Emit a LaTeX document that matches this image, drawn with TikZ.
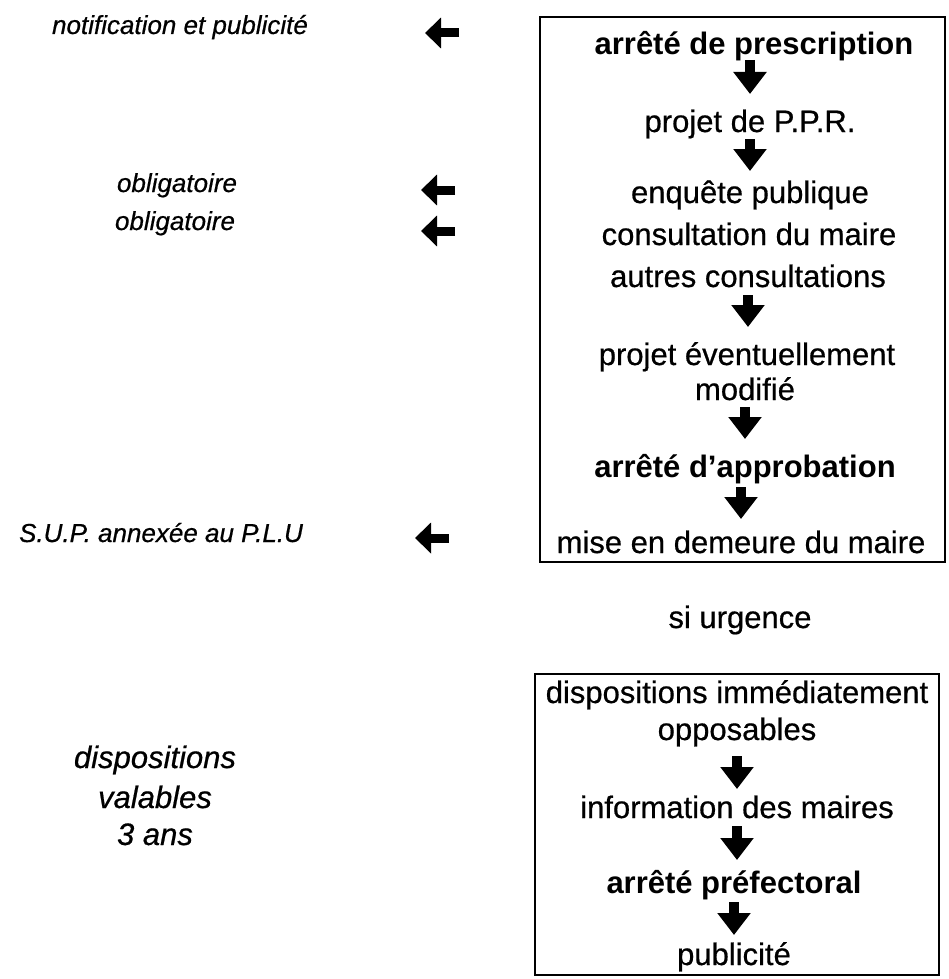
\documentclass[tikz,border=0pt]{standalone}
\usepackage{fontspec}
\setmainfont{Liberation Sans}[UprightFeatures={FakeBold=0.6},ItalicFeatures={FakeBold=0.6}]
\usetikzlibrary{arrows.meta}
\begin{document}
\begin{tikzpicture}[x=1pt,y=-1pt,
  boxtxt/.style={anchor=base, inner sep=0pt, font=\fontsize{31}{37}\selectfont},
  boldtxt/.style={anchor=base, inner sep=0pt, font=\fontsize{31}{37}\selectfont\bfseries},
  sidetxt/.style={anchor=base, inner sep=0pt, font=\fontsize{26}{30}\selectfont\itshape},
  bigside/.style={anchor=base, inner sep=0pt, font=\fontsize{31}{37}\selectfont\itshape},
  downarr/.style={line width=10pt, -{Triangle[length=22pt,width=32pt]}},
  leftarr/.style={line width=9pt, -{Triangle[length=16pt,width=30pt]}},
  frame/.style={draw, line width=2pt}]
\useasboundingbox (0,0) rectangle (949,979);

% frames
\draw[frame] (540,17) rectangle (945,562);
\draw[frame] (535,674) rectangle (939,975);

% upper procedure
\node[boldtxt] (t1) at (754,55) {arrêté de prescription};
\node[boxtxt]  (t2) at (750,132) {projet de P.P.R.};
\node[boxtxt]  (t3) at (750,203) {enquête publique};
\node[boxtxt]  (t4) at (749,245) {consultation du maire};
\node[boxtxt]  (t5) at (748,287) {autres consultations};
\node[boxtxt]  (t6) at (747,365) {projet éventuellement};
\node[boxtxt]  (t7) at (745,400) {modifié};
\node[boldtxt] (t8) at (745,477) {arrêté d’approbation};
\node[boxtxt]  (t9) at (741,553) {mise en demeure du maire};

\draw[downarr] ([yshift=-5pt]t1.base -| t2.base) -- ++(0,34);
\draw[downarr] ([yshift=-7pt]t2.base) -- ++(0,32);
\draw[downarr] ([yshift=-8pt]t5.base) -- ++(0,32);
\draw[downarr] ([yshift=-7pt]t7.base) -- ++(0,32);
\draw[downarr] ([yshift=-10pt]t8.base -| t9.base) -- ++(0,32);

\node[boxtxt] (u) at (740,628) {si urgence};

% lower procedure
\node[boxtxt]  (b1) at (737,703) {dispositions immédiatement};
\node[boxtxt]  (b2) at (737,740) {opposables};
\node[boxtxt]  (b3) at (737,818) {information des maires};
\node[boldtxt] (b4) at (734,893) {arrêté préfectoral};
\node[boxtxt]  (b5) at (734,965) {publicité};

\draw[downarr] ([yshift=-16pt]b2.base) -- ++(0,33);
\draw[downarr] ([yshift=-8pt]b3.base) -- ++(0,34);
\draw[downarr] ([yshift=-9pt]b4.base) -- ++(0,33);

% side notes
\node[sidetxt] (n1) at (180,34) {notification et publicité};
\node[sidetxt] (n2) at (177,192) {obligatoire};
\node[sidetxt] (n3) at (175,230) {obligatoire};
\node[sidetxt] (n4) at (161,542) {S.U.P. annexée au P.L.U};
\node[bigside] (d1) at (155,768) {dispositions};
\node[bigside] (d2) at (155,808) {valables};
\node[bigside] (d3) at (155,845) {3 ans};

\coordinate (a1) at (459,33);
\coordinate (a2) at (455,190);
\coordinate (a3) at (455,231);
\coordinate (a4) at (449,538);
\draw[leftarr] (a1) -- ++(-34,0);
\draw[leftarr] (a2) -- ++(-34,0);
\draw[leftarr] (a3) -- ++(-34,0);
\draw[leftarr] (a4) -- ++(-34,0);
\end{tikzpicture}
\end{document}
